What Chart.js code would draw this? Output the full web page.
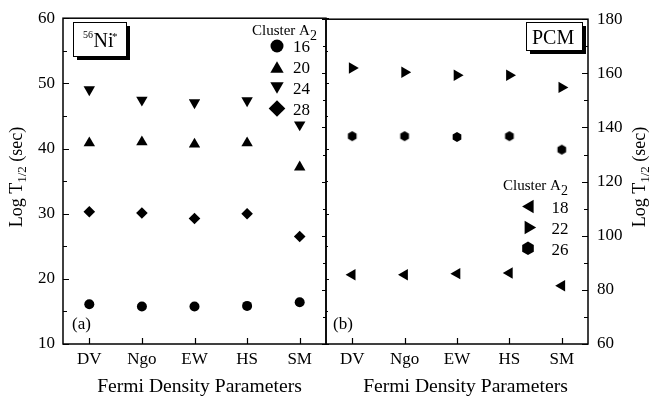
<!DOCTYPE html>
<html><head><meta charset="utf-8">
<script src="https://cdn.jsdelivr.net/npm/chart.js@4/dist/chart.umd.min.js"></script>
<style>
html,body{margin:0;padding:0;background:#fff;}
#wrap{position:relative;width:655px;height:396px;overflow:hidden;background:#fff;}
canvas{position:absolute;left:0;top:0;}
</style></head><body>
<div id="wrap"><canvas id="c1" width="655" height="396"></canvas><canvas id="c2" width="655" height="396"></canvas></div>
<script>
// ---- data ----
const categories = ['DV', 'Ngo', 'EW', 'HS', 'SM'];
// panel (a) 56Ni*
const ni16 = [16.1, 15.75, 15.75, 15.85, 16.4];
const ni20 = [40.85, 41.0, 40.65, 40.85, 37.15];
const ni24 = [49.05, 47.45, 47.05, 47.35, 43.65];
const ni28 = [30.3, 30.1, 29.25, 30.0, 26.5];
// panel (b) PCM
const pcm18 = [85.6, 85.6, 86.0, 86.2, 81.5];
const pcm22 = [162.0, 160.4, 159.3, 159.3, 154.8];
const pcm26 = [136.8, 136.8, 136.5, 136.8, 131.8];
// tick labels
const leftYTicks = [10, 20, 30, 40, 50, 60];
const rightYTicks = [60, 80, 100, 120, 140, 160, 180];
const leftLegendLabels = ['16', '20', '24', '28'];
const rightLegendLabels = ['18', '22', '26'];

const SERIF = "'Liberation Serif', 'Times New Roman', serif";
Chart.defaults.font.family = SERIF;
Chart.defaults.color = '#000';

function shape(ctx, style, rot, r, x, y) {
  ctx.beginPath();
  if (style === 'circle') {
    ctx.arc(x, y, r, 0, 2 * Math.PI);
  } else if (style === 'triangle') {
    let a = rot * Math.PI / 180;
    for (let i = 0; i < 3; i++) {
      const px = x + Math.sin(a) * r, py = y - Math.cos(a) * r;
      if (i) ctx.lineTo(px, py); else ctx.moveTo(px, py);
      a += 2 * Math.PI / 3;
    }
  } else if (style === 'rectRot') {
    ctx.moveTo(x, y - r); ctx.lineTo(x + r, y); ctx.lineTo(x, y + r); ctx.lineTo(x - r, y);
  } else if (style === 'hex') {
    for (let i = 0; i < 6; i++) {
      const a = i * Math.PI / 3;
      const px = x + Math.sin(a) * r, py = y - Math.cos(a) * r;
      if (i) ctx.lineTo(px, py); else ctx.moveTo(px, py);
    }
  }
  ctx.closePath();
  ctx.fillStyle = '#000';
  ctx.fill();
}
function hexCanvas(r) {
  const s = Math.ceil(2 * r + 2);
  const c = document.createElement('canvas');
  c.width = s; c.height = s;
  shape(c.getContext('2d'), 'hex', 0, r, s / 2, s / 2);
  return c;
}

function ds(label, data, style, rot, r) {
  return {label, data, pointStyle: style, rotation: rot, pointRadius: r, pointHoverRadius: r,
    backgroundColor: '#000', borderColor: '#000', borderWidth: 0, showLine: false};
}

function drawFrameAndTicks(ctx, ca, y, x, opts) {
  ctx.save();
  ctx.strokeStyle = '#000';
  ctx.lineWidth = 1.5;
  ctx.strokeRect(ca.left, ca.top, ca.right - ca.left, ca.bottom - ca.top);
  ctx.lineWidth = 1.2;
  ctx.beginPath();
  // y ticks on the side with labels (inward)
  for (let v = y.min; v <= y.max + 1e-9; v += opts.minor) {
    const py = Math.round(y.getPixelForValue(v)) + 0.5;
    const major = Math.abs((v - y.min) / opts.major - Math.round((v - y.min) / opts.major)) < 1e-6;
    const len = major ? 6 : 4;
    if (opts.side === 'left') {
      ctx.moveTo(ca.left, py); ctx.lineTo(ca.left + len, py);
      // mirrored short ticks at the shared border
      ctx.moveTo(ca.right, py); ctx.lineTo(ca.right + (major ? 3 : 2), py);
    } else {
      ctx.moveTo(ca.right, py); ctx.lineTo(ca.right - len, py);
      ctx.moveTo(ca.left, py); ctx.lineTo(ca.left - (major ? 4 : 3), py);
    }
  }
  // bottom ticks inward
  for (let i = 0; i < categories.length; i++) {
    const px = Math.round(x.getPixelForValue(i)) + 0.5;
    ctx.moveTo(px, ca.bottom); ctx.lineTo(px, ca.bottom - 6);
  }
  ctx.stroke();
  ctx.restore();
}

function rotatedTitle(ctx, xBase, yCenter) {
  ctx.save();
  const main = '18px ' + SERIF, sub = '13px ' + SERIF;
  ctx.font = main; const w1 = ctx.measureText('Log T').width; const w3 = ctx.measureText(' (sec)').width;
  ctx.font = sub; const w2 = ctx.measureText('1/2').width;
  const total = w1 + w2 + w3;
  ctx.translate(xBase, yCenter);
  ctx.rotate(-Math.PI / 2);
  ctx.textBaseline = 'alphabetic'; ctx.textAlign = 'left'; ctx.fillStyle = '#000';
  let t = -total / 2;
  ctx.font = main; ctx.fillText('Log T', t, 0); t += w1;
  ctx.font = sub; ctx.fillText('1/2', t, 4); t += w2;
  ctx.font = main; ctx.fillText(' (sec)', t, 0);
  ctx.restore();
}

function clusterTitle(ctx, x, yBase) {
  ctx.save();
  ctx.fillStyle = '#000'; ctx.textBaseline = 'alphabetic'; ctx.textAlign = 'left';
  ctx.font = '15px ' + SERIF;
  ctx.fillText('Cluster A', x, yBase);
  const w = ctx.measureText('Cluster A').width;
  ctx.font = '14px ' + SERIF;
  ctx.fillText('2', x + w, yBase + 5);
  ctx.restore();
}

function shadowBox(ctx, x, y, w, h) {
  ctx.save();
  ctx.fillStyle = '#000';
  ctx.fillRect(x + 4, y + 4, w, h);
  ctx.fillStyle = '#fff';
  ctx.fillRect(x, y, w, h);
  ctx.strokeStyle = '#000'; ctx.lineWidth = 1;
  ctx.strokeRect(x + 0.5, y + 0.5, w, h);
  ctx.restore();
}

const leftPlugin = {
  id: 'leftDecor',
  afterDatasetsDraw(chart) {
    const ctx = chart.ctx, ca = chart.chartArea;
    drawFrameAndTicks(ctx, ca, chart.scales.y, chart.scales.x, {side: 'left', major: 10, minor: 5});
    // 56Ni* box
    shadowBox(ctx, 73, 22, 53, 34);
    ctx.save();
    ctx.fillStyle = '#000'; ctx.textBaseline = 'alphabetic'; ctx.textAlign = 'left';
    ctx.font = '10px ' + SERIF; ctx.fillText('56', 83, 38);
    ctx.font = '20px ' + SERIF; ctx.fillText('Ni', 93.5, 47);
    ctx.font = '11px ' + SERIF; ctx.fillText('*', 112, 40);
    // (a)
    ctx.font = '17px ' + SERIF; ctx.fillText('(a)', 72, 328.5);
    // x title
    ctx.font = '19.6px ' + SERIF; ctx.textAlign = 'center';
    ctx.fillText('Fermi Density Parameters', 199.5, 391.5);
    ctx.restore();
    rotatedTitle(ctx, 22, 177);
    // legend
    clusterTitle(ctx, 252, 35);
    const rows = [46, 67, 88, 108.5];
    const styles = [['circle', 0, 6.5, 0], ['triangle', 0, 7.7, 1.9], ['triangle', 180, 7.7, -1.9], ['rectRot', 0, 8.3, 0]];
    ctx.save();
    ctx.font = '17px ' + SERIF; ctx.fillStyle = '#000'; ctx.textBaseline = 'alphabetic'; ctx.textAlign = 'left';
    for (let i = 0; i < rows.length; i++) {
      const s = styles[i];
      shape(ctx, s[0], s[1], s[2], 277, rows[i] + s[3]);
      ctx.fillStyle = '#000';
      ctx.fillText(leftLegendLabels[i], 293, rows[i] + 6);
    }
    ctx.restore();
  }
};

const rightPlugin = {
  id: 'rightDecor',
  afterDatasetsDraw(chart) {
    const ctx = chart.ctx, ca = chart.chartArea;
    drawFrameAndTicks(ctx, ca, chart.scales.y, chart.scales.x, {side: 'right', major: 20, minor: 10});
    shadowBox(ctx, 526, 22, 56, 28);
    ctx.save();
    ctx.fillStyle = '#000'; ctx.textBaseline = 'alphabetic'; ctx.textAlign = 'left';
    ctx.font = '20px ' + SERIF; ctx.fillText('PCM', 532, 43.5);
    ctx.font = '17px ' + SERIF; ctx.fillText('(b)', 333, 328.5);
    ctx.font = '19.6px ' + SERIF; ctx.textAlign = 'center';
    ctx.fillText('Fermi Density Parameters', 465.5, 391.5);
    ctx.restore();
    rotatedTitle(ctx, 645, 177);
    clusterTitle(ctx, 503, 190);
    const rows = [206.5, 227.5, 248.3];
    const styles = [['triangle', 270, 7.7, 529.8], ['triangle', 90, 7.7, 528.5], ['hex', 0, 6.7, 528]];
    ctx.save();
    ctx.font = '17px ' + SERIF; ctx.textBaseline = 'alphabetic'; ctx.textAlign = 'left';
    for (let i = 0; i < rows.length; i++) {
      const s = styles[i];
      shape(ctx, s[0], s[1], s[2], s[3], rows[i]);
      ctx.fillStyle = '#000';
      ctx.fillText(rightLegendLabels[i], 551.5, rows[i] + 6.5);
    }
    ctx.restore();
  }
};

const commonX = {
  type: 'category', labels: categories, offset: true,
  grid: {display: false, drawTicks: false}, border: {display: false},
  ticks: {font: {size: 17}, color: '#000', padding: 5, maxRotation: 0, autoSkip: false},
  afterFit(s) { s.height = 52; }
};

new Chart(document.getElementById('c1'), {
  type: 'scatter',
  data: {
    datasets: [
      ds('16', ni16, 'circle', 0, 5),
      ds('20', ni20, 'triangle', 0, 6.6),
      ds('24', ni24, 'triangle', 180, 6.6),
      ds('28', ni28, 'rectRot', 0, 5.8)
    ].map(d => Object.assign(d, {data: d.data.map((v, i) => ({x: categories[i], y: v}))}))
  },
  options: {
    responsive: false, animation: false, devicePixelRatio: 1,
    layout: {padding: {left: 0, right: 329, top: 16, bottom: 0}},
    plugins: {legend: {display: false}, tooltip: {enabled: false}},
    scales: {
      x: Object.assign({}, commonX),
      y: {
        type: 'linear', min: 10, max: 60,
        grid: {display: false, drawTicks: false}, border: {display: false},
        ticks: {font: {size: 17}, color: '#000', padding: 8},
        afterBuildTicks(s) { s.ticks = leftYTicks.map(v => ({value: v})); },
        afterFit(s) { s.width = 63; }
      }
    }
  },
  plugins: [leftPlugin]
});

new Chart(document.getElementById('c2'), {
  type: 'scatter',
  data: {
    datasets: [
      ds('18', pcm18, 'triangle', 270, 6.6),
      ds('22', pcm22, 'triangle', 90, 6.6),
      ds('26', pcm26, hexCanvas(5), 0, 5)
    ].map(d => Object.assign(d, {data: d.data.map((v, i) => ({x: categories[i], y: v}))}))
  },
  options: {
    responsive: false, animation: false, devicePixelRatio: 1,
    layout: {padding: {left: 326, right: 0, top: 16, bottom: 0}},
    plugins: {legend: {display: false}, tooltip: {enabled: false}},
    scales: {
      x: Object.assign({}, commonX),
      y: {
        type: 'linear', position: 'right', min: 60, max: 180,
        grid: {display: false, drawTicks: false}, border: {display: false},
        ticks: {font: {size: 17}, color: '#000', padding: 9},
        afterBuildTicks(s) { s.ticks = rightYTicks.map(v => ({value: v})); },
        afterFit(s) { s.width = 67; }
      }
    }
  },
  plugins: [rightPlugin]
});
</script>
</body></html>
